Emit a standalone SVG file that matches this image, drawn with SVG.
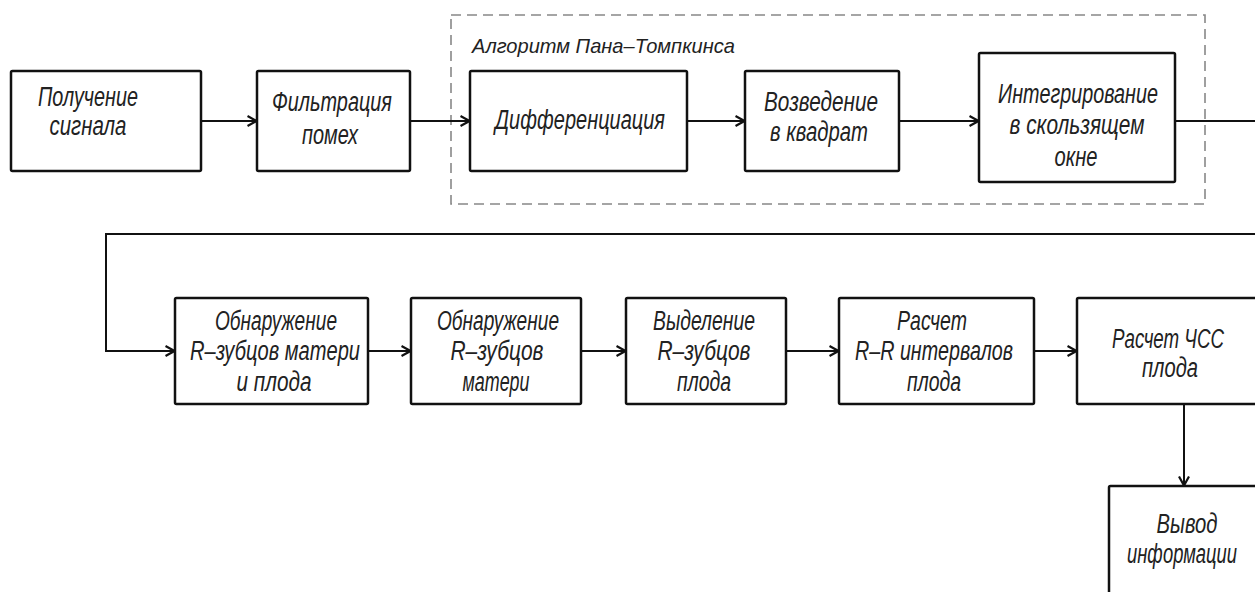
<svg xmlns="http://www.w3.org/2000/svg" width="1255" height="592" viewBox="0 0 1255 592">
<defs>
<marker id="arr" viewBox="0 0 11 12" refX="10.5" refY="6" markerWidth="11" markerHeight="12" markerUnits="userSpaceOnUse" orient="auto">
<path d="M1,1 L10,6 L1,11" fill="none" stroke="#111" stroke-width="2.2"/>
</marker>
<style>
.box{fill:#fff;stroke:#111;stroke-width:2.5;}
.t{font-family:"Liberation Sans",Arial,sans-serif;font-style:italic;font-size:27px;fill:#222;text-anchor:middle;}
.lbl{text-anchor:start;font-size:21px;}
.c{fill:none;stroke:#111;stroke-width:2;}
.grp{fill:none;stroke:#888;stroke-width:1.6;stroke-dasharray:10 6;}
</style>
</defs>
<rect width="1255" height="592" fill="#fff"/>
<g id="group-pan-tompkins">
<rect class="grp" x="451" y="15" width="754" height="189"/>
<text class="t lbl" x="472" y="53" textLength="263" lengthAdjust="spacingAndGlyphs">Алгоритм Пана–Томпкинса</text>
</g>
<g id="connectors">
<line class="c" x1="201" y1="121" x2="257" y2="121" marker-end="url(#arr)"/>
<line class="c" x1="410" y1="121" x2="470" y2="121" marker-end="url(#arr)"/>
<line class="c" x1="687" y1="121" x2="745" y2="121" marker-end="url(#arr)"/>
<line class="c" x1="899" y1="121" x2="979" y2="121" marker-end="url(#arr)"/>
<path class="c" d="M1175,121 H1268 V234 H106 V351 H175" marker-end="url(#arr)"/>
<line class="c" x1="368" y1="351" x2="411" y2="351" marker-end="url(#arr)"/>
<line class="c" x1="581" y1="351" x2="626" y2="351" marker-end="url(#arr)"/>
<line class="c" x1="786" y1="351" x2="839" y2="351" marker-end="url(#arr)"/>
<line class="c" x1="1034" y1="351" x2="1077" y2="351" marker-end="url(#arr)"/>
<line class="c" x1="1184" y1="404" x2="1184" y2="486" marker-end="url(#arr)"/>
</g>
<g id="n1">
<rect class="box" x="11" y="71" width="190" height="100" rx="1.5"/>
<text class="t" x="88" y="106" textLength="100" lengthAdjust="spacingAndGlyphs">Получение</text>
<text class="t" x="88" y="135" textLength="77" lengthAdjust="spacingAndGlyphs">сигнала</text>
</g>
<g id="n2">
<rect class="box" x="257" y="71" width="153" height="100" rx="1.5"/>
<text class="t" x="332" y="111" textLength="120" lengthAdjust="spacingAndGlyphs">Фильтрация</text>
<text class="t" x="330" y="144" textLength="56" lengthAdjust="spacingAndGlyphs">помех</text>
</g>
<g id="n3">
<rect class="box" x="470" y="71" width="217" height="100" rx="1.5"/>
<text class="t" x="580" y="129" textLength="170" lengthAdjust="spacingAndGlyphs">Дифференциация</text>
</g>
<g id="n4">
<rect class="box" x="745" y="71" width="154" height="100" rx="1.5"/>
<text class="t" x="821" y="111" textLength="114" lengthAdjust="spacingAndGlyphs">Возведение</text>
<text class="t" x="819" y="141" textLength="98" lengthAdjust="spacingAndGlyphs">в квадрат</text>
</g>
<g id="n5">
<rect class="box" x="979" y="53" width="196" height="129" rx="1.5"/>
<text class="t" x="1078" y="103" textLength="160" lengthAdjust="spacingAndGlyphs">Интегрирование</text>
<text class="t" x="1077" y="134" textLength="135" lengthAdjust="spacingAndGlyphs">в скользящем</text>
<text class="t" x="1076" y="166" textLength="43" lengthAdjust="spacingAndGlyphs">окне</text>
</g>
<g id="n6">
<rect class="box" x="175" y="298" width="193" height="106" rx="1.5"/>
<text class="t" x="276" y="330" textLength="122" lengthAdjust="spacingAndGlyphs">Обнаружение</text>
<text class="t" x="275" y="360" textLength="170" lengthAdjust="spacingAndGlyphs">R–зубцов матери</text>
<text class="t" x="274" y="391" textLength="75" lengthAdjust="spacingAndGlyphs">и плода</text>
</g>
<g id="n7">
<rect class="box" x="411" y="298" width="170" height="106" rx="1.5"/>
<text class="t" x="498" y="330" textLength="122" lengthAdjust="spacingAndGlyphs">Обнаружение</text>
<text class="t" x="497" y="360" textLength="93" lengthAdjust="spacingAndGlyphs">R–зубцов</text>
<text class="t" x="496" y="391" textLength="67" lengthAdjust="spacingAndGlyphs">матери</text>
</g>
<g id="n8">
<rect class="box" x="626" y="298" width="160" height="106" rx="1.5"/>
<text class="t" x="704" y="330" textLength="102" lengthAdjust="spacingAndGlyphs">Выделение</text>
<text class="t" x="704" y="360" textLength="93" lengthAdjust="spacingAndGlyphs">R–зубцов</text>
<text class="t" x="704" y="391" textLength="54" lengthAdjust="spacingAndGlyphs">плода</text>
</g>
<g id="n9">
<rect class="box" x="839" y="298" width="195" height="106" rx="1.5"/>
<text class="t" x="932" y="330" textLength="70" lengthAdjust="spacingAndGlyphs">Расчет</text>
<text class="t" x="934" y="360" textLength="158" lengthAdjust="spacingAndGlyphs">R–R интервалов</text>
<text class="t" x="934" y="391" textLength="54" lengthAdjust="spacingAndGlyphs">плода</text>
</g>
<g id="n10">
<rect class="box" x="1077" y="298" width="190" height="106" rx="1.5"/>
<text class="t" x="1168" y="348" textLength="112" lengthAdjust="spacingAndGlyphs">Расчет ЧСС</text>
<text class="t" x="1170" y="377" textLength="56" lengthAdjust="spacingAndGlyphs">плода</text>
</g>
<g id="n11">
<rect class="box" x="1109" y="486" width="160" height="120" rx="1.5"/>
<text class="t" x="1187" y="533" textLength="61" lengthAdjust="spacingAndGlyphs">Вывод</text>
<text class="t" x="1182" y="563" textLength="110" lengthAdjust="spacingAndGlyphs">информации</text>
</g>
</svg>
